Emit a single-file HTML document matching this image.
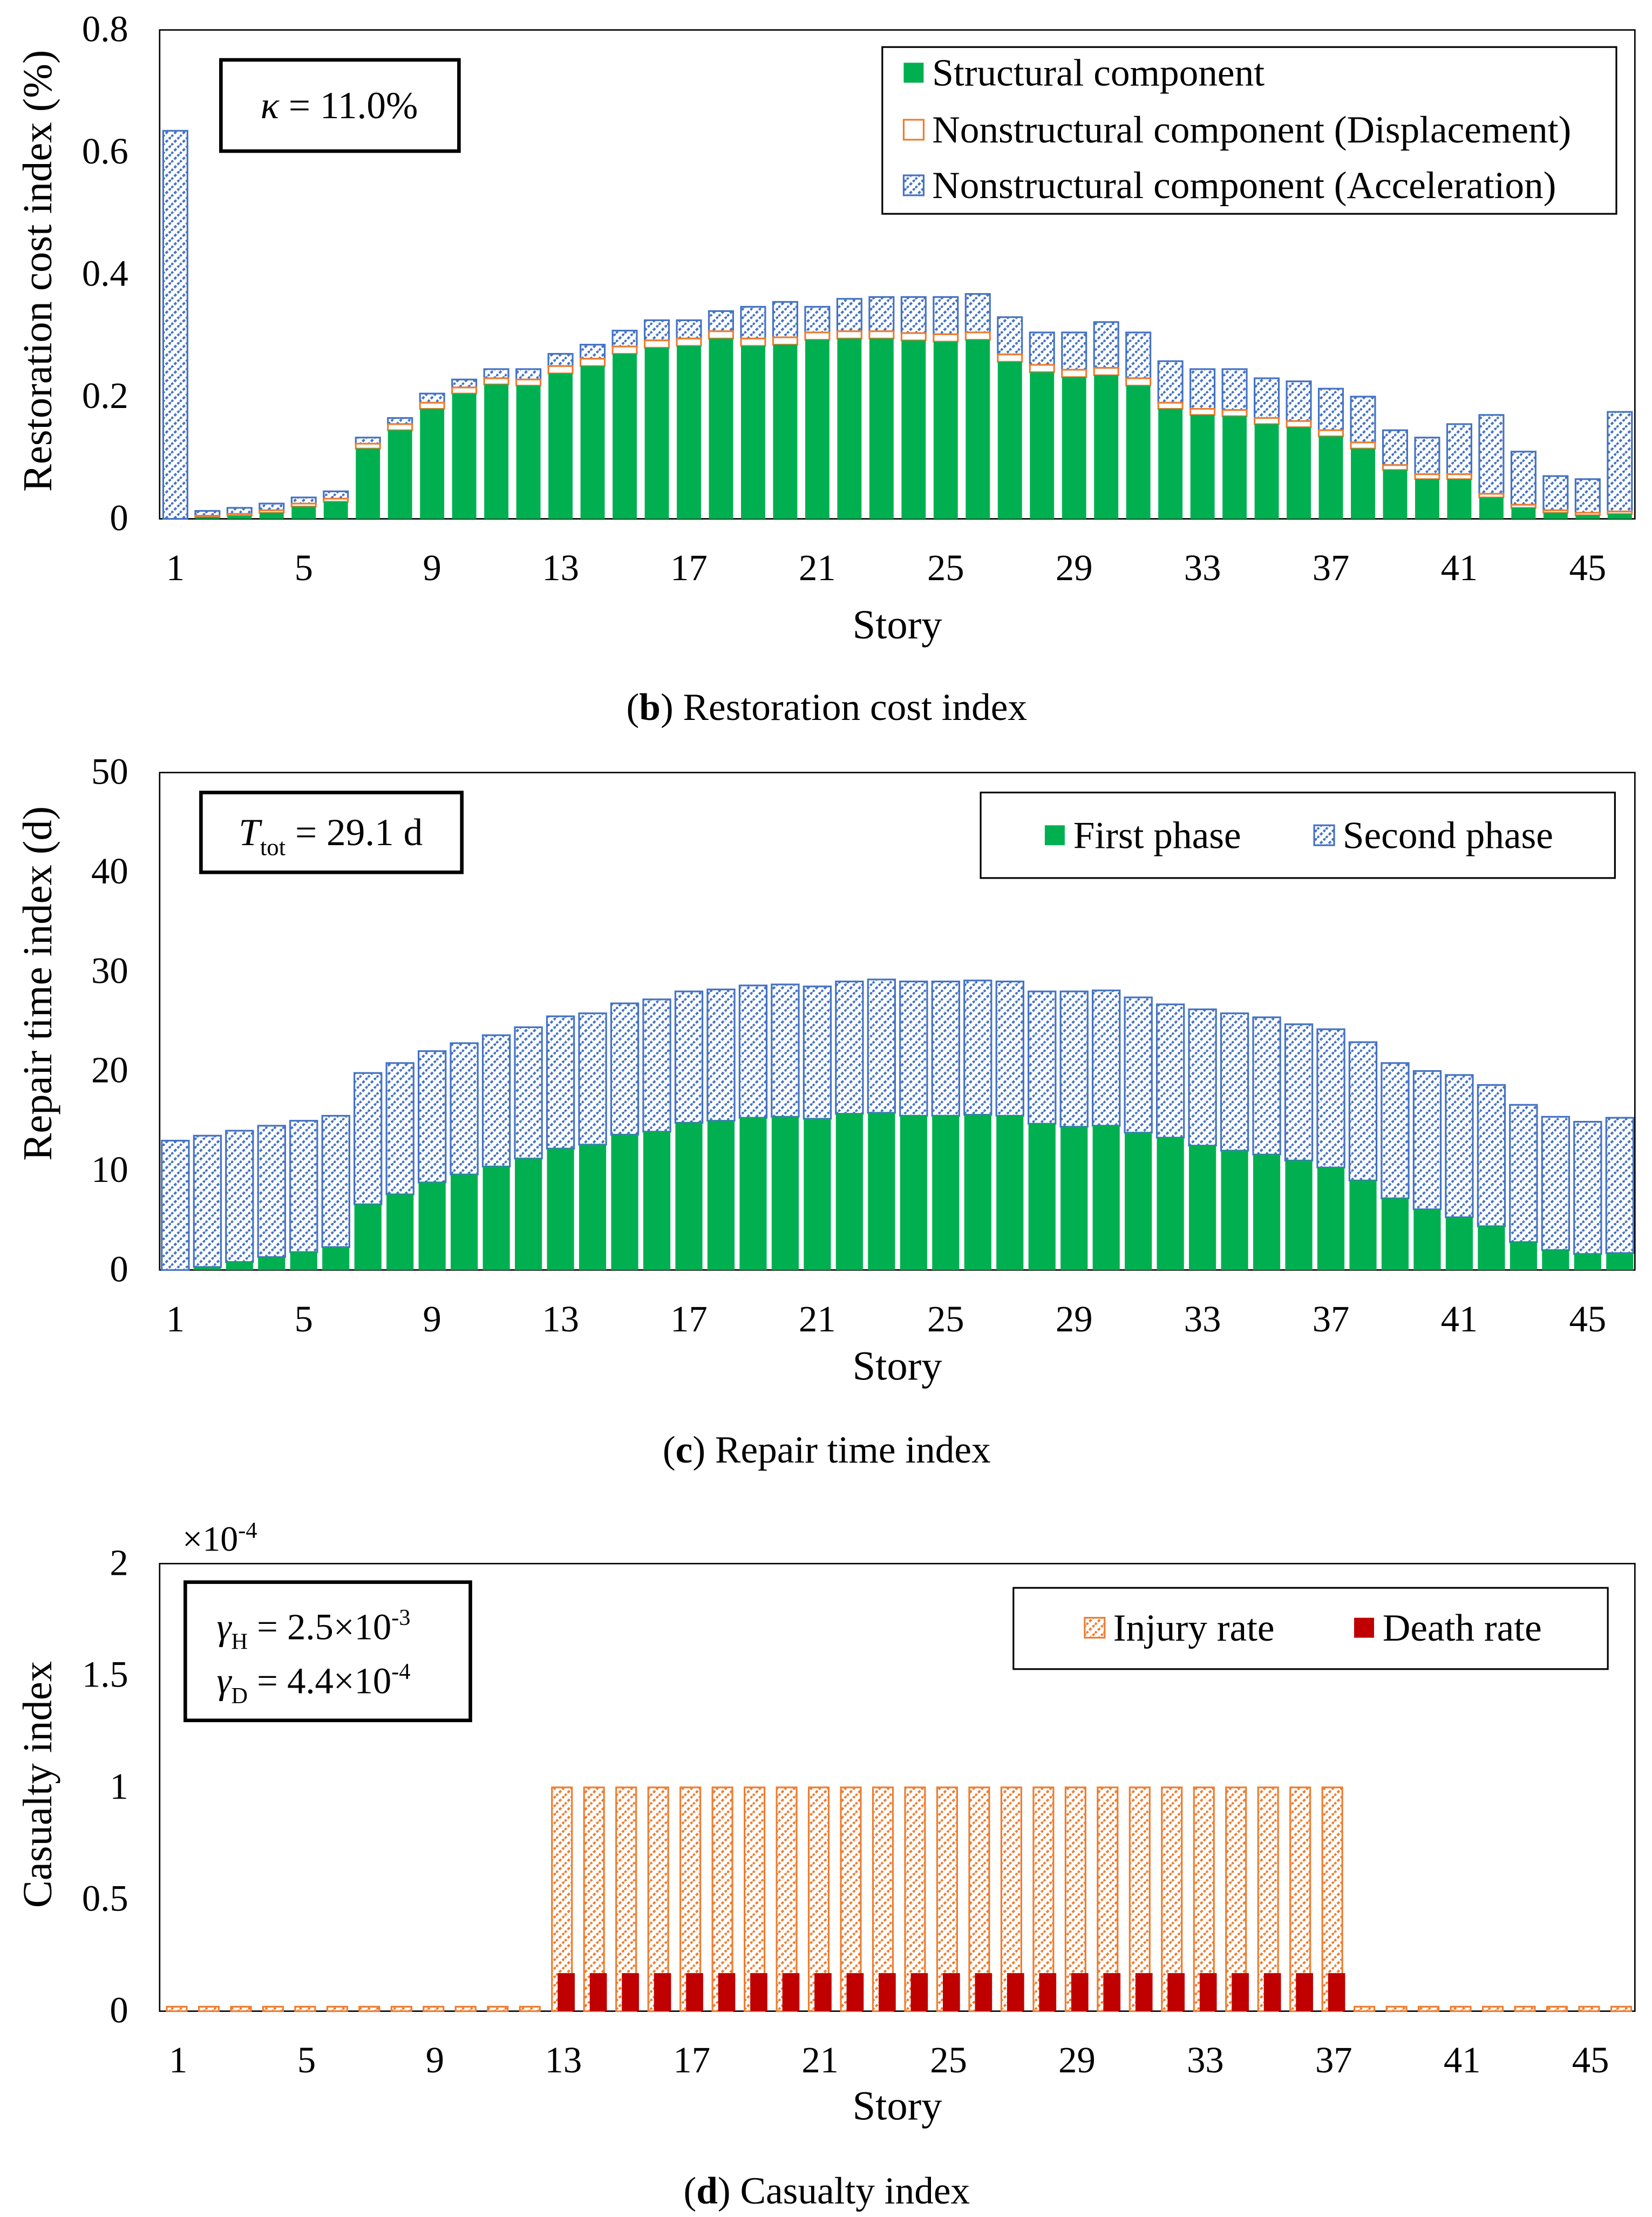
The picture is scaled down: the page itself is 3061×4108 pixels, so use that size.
<!DOCTYPE html>
<html><head><meta charset="utf-8"><style>
html,body{margin:0;padding:0;background:#fff;}
svg{display:block;font-family:"Liberation Serif",serif;}
</style></head><body>
<svg id="s" width="3061" height="4108" viewBox="0 0 1159 1555.4" xmlns="http://www.w3.org/2000/svg">
<defs>
<pattern id="hb" width="6" height="6" patternUnits="userSpaceOnUse">
<rect width="6" height="6" fill="#fff"/><path d="M0,6 L6,0" stroke="#4472C4" stroke-width="1.6" stroke-dasharray="2,1.2"/></pattern>
<pattern id="ho" width="6" height="6" patternUnits="userSpaceOnUse">
<rect width="6" height="6" fill="#fff"/><path d="M0,6 L6,0" stroke="#ED7D31" stroke-width="1.6" stroke-dasharray="2,1.2"/></pattern>
</defs>
<g id="gb"></g>
<g id="gc"></g>
<g id="gd"></g>
</svg>
<script>
const stories=[];for(let i=1;i<=46;i++)stories.push(i);
const xTickLabels=[1,5,9,13,17,21,25,29,33,37,41,45];
// (b) restoration cost index (%)
const costStruct=[0,0.003,0.005,0.01,0.02,0.028,0.115,0.145,0.18,0.205,0.22,0.218,0.238,0.25,0.27,0.28,0.283,0.295,0.283,0.285,0.293,0.295,0.295,0.292,0.29,0.293,0.257,0.24,0.232,0.235,0.218,0.18,0.17,0.168,0.155,0.15,0.135,0.115,0.08,0.065,0.065,0.035,0.018,0.01,0.006,0.008];
const costDisp=[0,0.002,0.003,0.004,0.005,0.005,0.008,0.01,0.01,0.01,0.01,0.01,0.012,0.012,0.012,0.012,0.012,0.012,0.012,0.012,0.012,0.012,0.012,0.012,0.012,0.012,0.012,0.012,0.012,0.012,0.012,0.01,0.01,0.01,0.01,0.01,0.01,0.01,0.008,0.008,0.008,0.006,0.005,0.004,0.004,0.004];
const costTotal=[0.635,0.013,0.018,0.025,0.035,0.045,0.133,0.165,0.205,0.228,0.245,0.245,0.27,0.285,0.308,0.325,0.325,0.34,0.347,0.355,0.347,0.36,0.363,0.363,0.363,0.368,0.33,0.305,0.305,0.322,0.305,0.258,0.245,0.245,0.23,0.225,0.213,0.2,0.145,0.133,0.155,0.17,0.11,0.07,0.065,0.175];
const costTicks=[0,0.2,0.4,0.6,0.8];
// (c) repair time (d)
const timeFirst=[0,0.3,0.8,1.3,1.8,2.3,6.6,7.6,8.8,9.6,10.4,11.2,12.2,12.6,13.6,13.9,14.8,15,15.3,15.4,15.2,15.7,15.8,15.5,15.5,15.6,15.5,14.7,14.4,14.5,13.8,13.3,12.5,12,11.6,11,10.3,9,7.2,6.1,5.3,4.4,2.8,2,1.6,1.7];
const timeTotal=[13,13.5,14,14.5,15,15.5,19.8,20.8,22,22.8,23.6,24.4,25.5,25.8,26.8,27.2,28,28.2,28.6,28.7,28.5,29,29.2,29,29,29.1,29,28,28,28.1,27.4,26.7,26.2,25.8,25.4,24.7,24.2,22.9,20.8,20,19.6,18.6,16.6,15.4,14.9,15.3];
const timeTicks=[0,10,20,30,40,50];
// (d) casualty (x1e-4)
const injury=[0.02,0.02,0.02,0.02,0.02,0.02,0.02,0.02,0.02,0.02,0.02,0.02,1,1,1,1,1,1,1,1,1,1,1,1,1,1,1,1,1,1,1,1,1,1,1,1,1,0.02,0.02,0.02,0.02,0.02,0.02,0.02,0.02,0.02];
const death=[0,0,0,0,0,0,0,0,0,0,0,0,0.17,0.17,0.17,0.17,0.17,0.17,0.17,0.17,0.17,0.17,0.17,0.17,0.17,0.17,0.17,0.17,0.17,0.17,0.17,0.17,0.17,0.17,0.17,0.17,0.17,0,0,0,0,0,0,0,0,0];
const casTicks=[0,0.5,1,1.5,2];
const casTickLabels=["0","0.5","1","1.5","2"];

const NS="http://www.w3.org/2000/svg";
function mk(p,t,a){const e=document.createElementNS(NS,t);for(const k in a)e.setAttribute(k,a[k]);p.appendChild(e);return e;}
function txt(p,x,y,s,size,anchor,name){const e=mk(p,'text',{x:x,y:y,'font-size':size,'text-anchor':anchor||'middle'});e.innerHTML=s;

return e;}
function axes(g,L,R,T,B,x0,ymax,ticks,tlabels,ylab,ylabY,caption,capY,storyY){
 const ys=v=>B-(v/ymax)*(B-T);
 const xs=i=>x0+(i-1)*22.52;
 const fr=mk(g,'rect',{x:L,y:T,width:R-L,height:B-T,fill:'none',stroke:'#000','stroke-width':1});
 
 
 ticks.forEach((t,i)=>{txt(g,L-22,ys(t)+8,tlabels?tlabels[i]:String(t),26,'end','y-tick-label');});
 xTickLabels.forEach(s=>{txt(g,xs(s),B+43,String(s),26,'middle','x-tick-label');});
 txt(g,(L+R)/2,storyY,'Story',29,'middle','x-axis-title');
 const yl=txt(g,0,0,ylab,29,'middle','y-axis-title');yl.setAttribute('transform','translate(36,'+ylabY+') rotate(-90)');
 txt(g,580,capY,caption,27,'middle','caption');
 return {xs,ys};
}
function bar(g,x,y0,y1,w,fill,stroke,name){if(y0-y1<=0)return;const r=mk(g,'rect',{x:x,y:y1,width:w,height:y0-y1,fill:fill,stroke:stroke||'none','stroke-width':1.2});

}
function box(g,x,y,w,h,sw,name){const r=mk(g,'rect',{x:x,y:y,width:w,height:h,fill:'#fff',stroke:'#000','stroke-width':sw});

}

// chart b
(function(){const g=document.getElementById('gb');
 const a=axes(g,112,1147,21,364,123,0.8,costTicks,null,'Restoration cost index (%)',190,'(<tspan font-weight="bold">b</tspan>) Restoration cost index',505,448);
 const w=17;
 stories.forEach((s,i)=>{const x=a.xs(s)-w/2;
  bar(g,x,a.ys(costStruct[i]+costDisp[i]),a.ys(costTotal[i]),w,'url(#hb)','#4472C4','bar-acceleration');
  bar(g,x,a.ys(costStruct[i]),a.ys(costStruct[i]+costDisp[i]),w,'#fff','#ED7D31','bar-displacement');
  bar(g,x,a.ys(0),a.ys(costStruct[i]),w,'#00B050',null,'bar-structural');});
 box(g,155,42,167,64,2.5,'kappa-box');
 txt(g,238,83,'<tspan font-style="italic">κ</tspan> = 11.0%',27,'middle','kappa-label');
 box(g,619,33,515,117,1.2,'legend');
 mk(g,'rect',{x:634,y:44,width:14,height:14,fill:'#00B050'});
 txt(g,654,60,'Structural component',27,'start','legend-structural');
 mk(g,'rect',{x:634,y:84,width:14,height:14,fill:'#fff',stroke:'#ED7D31','stroke-width':1.2});
 txt(g,654,100,'Nonstructural component (Displacement)',27,'start','legend-displacement');
 mk(g,'rect',{x:634,y:123,width:14,height:14,fill:'url(#hb)',stroke:'#4472C4','stroke-width':1.2});
 txt(g,654,139,'Nonstructural component (Acceleration)',27,'start','legend-acceleration');
})();
// chart c
(function(){const g=document.getElementById('gc');
 const a=axes(g,112,1147,542,891,123,50,timeTicks,null,'Repair time index (d)',690,'(<tspan font-weight="bold">c</tspan>) Repair time index',1026,968);
 const w=19;
 stories.forEach((s,i)=>{const x=a.xs(s)-w/2;
  bar(g,x,a.ys(timeFirst[i]),a.ys(timeTotal[i]),w,'url(#hb)','#4472C4','bar-second-phase');
  bar(g,x,a.ys(0),a.ys(timeFirst[i]),w,'#00B050',null,'bar-first-phase');});
 box(g,141,556,183,56,2.5,'ttot-box');
 txt(g,232,593,'<tspan font-style="italic">T</tspan><tspan font-size="17" dy="7">tot</tspan><tspan dy="-7"> = 29.1 d</tspan>',27,'middle','ttot-label');
 box(g,688,556,445,60,1.2,'legend');
 mk(g,'rect',{x:733,y:579,width:14,height:14,fill:'#00B050'});
 txt(g,753,595,'First phase',27,'start','legend-first-phase');
 mk(g,'rect',{x:922,y:579,width:14,height:14,fill:'url(#hb)',stroke:'#4472C4','stroke-width':1.2});
 txt(g,942,595,'Second phase',27,'start','legend-second-phase');
})();
// chart d
(function(){const g=document.getElementById('gd');
 const a=axes(g,112,1147,1097,1411,125,2,casTicks,casTickLabels,'Casualty index',1252,'(<tspan font-weight="bold">d</tspan>) Casualty index',1546,1487);
 txt(g,128,1088,'×10<tspan font-size="16" dy="-9">-4</tspan>',25,'start','y-scale-label');
 stories.forEach((s,i)=>{const c=a.xs(s);
  bar(g,c-8,a.ys(0),a.ys(injury[i]),14,'url(#ho)','#ED7D31','bar-injury');
  bar(g,c-4,a.ys(0),a.ys(death[i]),12,'#C00000',null,'bar-death');});
 box(g,130,1110,200,97,2.5,'gamma-box');
 txt(g,152,1150,'<tspan font-style="italic">γ</tspan><tspan font-size="16" dy="7">H</tspan><tspan dy="-7"> = 2.5×10</tspan><tspan font-size="16" dy="-10">-3</tspan>',26,'start','gamma-h-label');
 txt(g,152,1188,'<tspan font-style="italic">γ</tspan><tspan font-size="16" dy="7">D</tspan><tspan dy="-7"> = 4.4×10</tspan><tspan font-size="16" dy="-10">-4</tspan>',26,'start','gamma-d-label');
 box(g,711,1114,417,57,1.2,'legend');
 mk(g,'rect',{x:761,y:1135,width:14,height:14,fill:'url(#ho)',stroke:'#ED7D31','stroke-width':1.2});
 txt(g,781,1151,'Injury rate',27,'start','legend-injury');
 mk(g,'rect',{x:950,y:1135,width:14,height:14,fill:'#C00000'});
 txt(g,970,1151,'Death rate',27,'start','legend-death');
})();
</script>
</body></html>
